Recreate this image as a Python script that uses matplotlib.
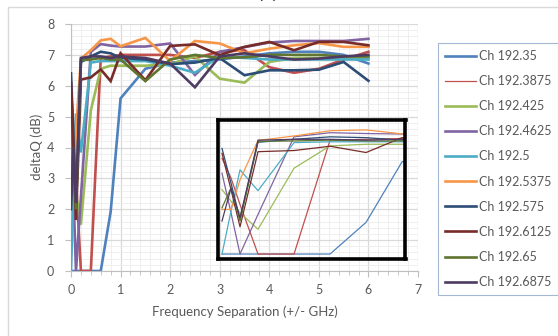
import matplotlib
matplotlib.use("Agg")
import matplotlib.pyplot as plt
from matplotlib.patches import Rectangle
from matplotlib.lines import Line2D
from matplotlib.ticker import MultipleLocator

plt.rcParams['font.family'] = ['Lato', 'DejaVu Sans']

# ---- data ----
freq_sep = [0, 0.05, 0.1, 0.2, 0.4, 0.6, 0.8, 1.0, 1.5, 2.0, 2.5, 3.0, 3.5, 4.0, 4.5, 5.0, 5.5, 6.0]

ch_192_35 = [0, 0, 0, 0, 0, 0, 1.92, 5.59, 6.55, 6.75, 6.8, 6.85, 6.95, 7.05, 7.1, 7.1, 7.0, 6.72]
ch_192_3875 = [5.8, 4.6, 3.0, 0, 0, 6.9, 6.95, 7.0, 7.0, 7.0, 6.9, 7.1, 7.15, 6.6, 6.42, 6.55, 6.85, 7.1]
ch_192_425 = [3.9, 3.2, 2.5, 1.5, 5.2, 6.55, 6.65, 6.65, 6.65, 6.7, 6.95, 6.23, 6.1, 6.77, 6.9, 6.9, 6.88, 6.9]
ch_192_4625 = [4.9, 2.5, 0, 2.4, 7.1, 7.35, 7.3, 7.27, 7.27, 7.37, 6.35, 7.1, 7.25, 7.4, 7.45, 7.45, 7.45, 7.52]
ch_192_5 = [0, 2.6, 5.1, 3.84, 6.75, 6.8, 6.8, 6.8, 6.8, 6.65, 6.42, 6.95, 6.9, 6.85, 6.85, 6.85, 6.85, 6.85]
ch_192_5375 = [2.7, 2.7, 4.5, 6.88, 7.15, 7.47, 7.52, 7.28, 7.55, 6.8, 7.45, 7.37, 7.05, 7.2, 7.31, 7.38, 7.26, 7.26]
ch_192_575 = [6.4, 4.3, 2.1, 6.77, 6.95, 7.1, 7.05, 6.9, 6.85, 6.7, 6.75, 6.9, 6.34, 6.5, 6.5, 6.52, 6.77, 6.16]
ch_192_6125 = [6.1, 3.9, 1.65, 6.2, 6.27, 6.53, 6.15, 7.05, 6.18, 7.29, 7.34, 6.99, 7.26, 7.42, 7.15, 7.42, 7.42, 7.31]
ch_192_65 = [2.8, 4.0, 2.0, 6.83, 6.85, 6.9, 6.85, 6.85, 6.15, 6.85, 7.0, 6.9, 6.92, 7.0, 7.0, 7.0, 6.95, 6.95]
ch_192_6875 = [2.0, 4.0, 2.2, 6.9, 6.95, 6.95, 6.9, 6.95, 6.9, 6.72, 5.95, 6.95, 7.05, 6.95, 6.85, 6.88, 6.95, 7.0]

labels = ['Ch 192.35', 'Ch 192.3875', 'Ch 192.425', 'Ch 192.4625', 'Ch 192.5',
          'Ch 192.5375', 'Ch 192.575', 'Ch 192.6125', 'Ch 192.65', 'Ch 192.6875']
series = [ch_192_35, ch_192_3875, ch_192_425, ch_192_4625, ch_192_5,
          ch_192_5375, ch_192_575, ch_192_6125, ch_192_65, ch_192_6875]
colors = ['#4F81BD', '#C0504D', '#9BBB59', '#8064A2', '#4BACC6',
          '#F79646', '#2C4D75', '#772C2A', '#5F7530', '#4D3B62']

x_ticks = [0, 1, 2, 3, 4, 5, 6, 7]
y_ticks = [0, 1, 2, 3, 4, 5, 6, 7, 8]

W, H = 558, 336
fig = plt.figure(figsize=(W / 100, H / 100), dpi=100)
fig.patch.set_facecolor('white')

# chart-area border
fig.patches.append(Rectangle((8 / W, -0.05), 1.2, 1 - 7 / H + 0.05, transform=fig.transFigure,
                             fill=False, edgecolor='#D9D9D9', lw=1.0))

ax = fig.add_axes([71 / W, 1 - 271 / H, 347 / W, 247 / H])
for ys, c in zip(series, colors):
    ax.plot(freq_sep, ys, color=c, lw=1.9, solid_joinstyle='miter', zorder=3)
ax.set_xlim(0, 7)
ax.set_ylim(0, 8)
ax.set_xticks(x_ticks)
ax.set_yticks(y_ticks)
ax.xaxis.set_minor_locator(MultipleLocator(0.2))
ax.yaxis.set_minor_locator(MultipleLocator(0.2))
ax.grid(which='major', color='#D9D9D9', lw=0.9, zorder=0)
ax.grid(which='minor', color='#ECECEC', lw=0.6, zorder=0)
ax.set_axisbelow(True)
for s in ['top', 'right']:
    ax.spines[s].set_visible(False)
for s in ['left', 'bottom']:
    ax.spines[s].set_color('#BFBFBF')
    ax.spines[s].set_linewidth(0.8)
ax.tick_params(axis='both', which='major', length=4, color='#BFBFBF', labelcolor='#595959', labelsize=9)
ax.tick_params(axis='x', which='minor', length=3, color='#BFBFBF')
ax.tick_params(axis='y', which='minor', length=0)
ax.tick_params(axis='x', which='major', pad=5)
ax.tick_params(axis='y', which='major', pad=8)

fig.text(244.5 / W, 1 - 312 / H, 'Frequency Separation (+/- GHz)', ha='center', va='center',
         fontsize=9.5, color='#595959')
fig.text(37 / W, 1 - 147 / H, 'deltaQ (dB)', ha='center', va='center', rotation=90,
         fontsize=9.5, color='#595959')
fig.text(268 / W, 1 + 2.0 / H, '(a)', ha='center', va='baseline', fontsize=14, fontweight='bold')

# inset (zoomed view of the low-separation region)
axi = fig.add_axes([217.5 / W, 1 - 258.5 / H, 188 / W, 139 / H])
axi.set_facecolor('none')
for ys, c in zip(series, colors):
    axi.plot(freq_sep, ys, color=c, lw=0.9)
axi.set_xlim(-0.025, 1.019)
axi.set_ylim(-0.27, 8.15)
axi.set_xticks([])
axi.set_yticks([])
for s in axi.spines.values():
    s.set_color('black')
    s.set_linewidth(2.6)

# legend
handles = []
for i, c in enumerate(colors):
    handles.append(Line2D([0], [0], color=c, lw=(0.9 if i == 1 else 1.9)))
leg = fig.legend(handles, labels, loc='upper left', bbox_to_anchor=(438 / W, 1 - 43 / H),
                 borderaxespad=0, frameon=True, fancybox=False, edgecolor='#8EA6C8',
                 prop={'size': 9}, handlelength=2.5, handletextpad=0.2,
                 labelspacing=1.05, borderpad=0.55)
leg.get_frame().set_linewidth(0.8)
for t in leg.get_texts():
    t.set_color('#595959')

fig.savefig('out.png', dpi=100)
